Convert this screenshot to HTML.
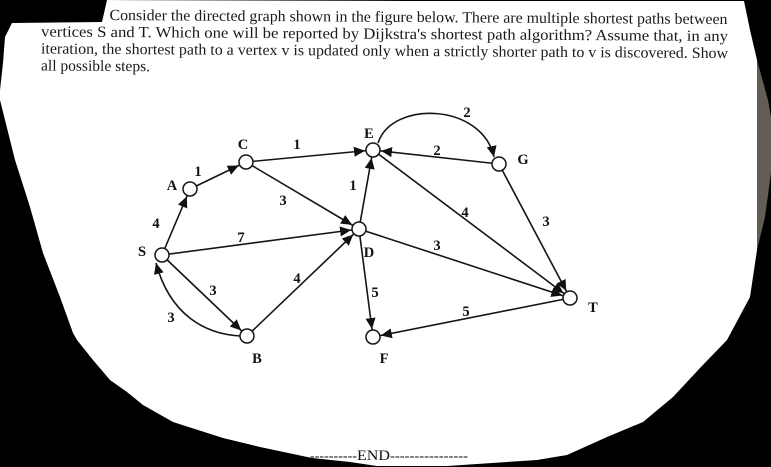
<!DOCTYPE html>
<html><head><meta charset="utf-8"><style>
html,body{margin:0;padding:0;background:#000;width:771px;height:467px;overflow:hidden}
svg{display:block}
.t{font-family:"Liberation Serif",serif;font-size:15.5px;fill:#1a1a1a}
.l{font-family:"Liberation Serif",serif;font-size:14.5px;font-weight:bold;fill:#111;text-anchor:middle;dominant-baseline:central}
.e{stroke:#151515;stroke-width:1.6;fill:none;marker-end:url(#a)}
circle{fill:#fff;stroke:#151515;stroke-width:1.5}
</style></head><body>
<svg width="771" height="467" viewBox="0 0 771 467" xmlns="http://www.w3.org/2000/svg">
<defs>
<marker id="a" markerUnits="userSpaceOnUse" markerWidth="40" markerHeight="20" refX="19" refY="10" orient="auto" viewBox="0 0 40 20">
<path d="M0,5 L11,10 L0,15 Z" fill="#111"/>
</marker>
<marker id="b" markerUnits="userSpaceOnUse" markerWidth="40" markerHeight="20" refX="11" refY="10" orient="auto" viewBox="0 0 40 20">
<path d="M0,5 L11,10 L0,15 Z" fill="#111"/>
</marker>
</defs>
<rect width="771" height="467" fill="#000"/>
<path d="M771,117 L771,173 L765,217 L757,250 L757,60 L768,100 Z" fill="#625e55"/>
<path fill="#fff" d="M107,0 L405,1 L744,1 L750,30 L757,60 L757,250 L750,297 L727,340 L700,368 L673,397 L643,422 L607,437 L567,455 L537,460 L477,464 L447,466 L377,466 L350,462 L312,458 L260,447 L223,438 L173,422 L143,405 L127,392 L110,380 L93,360 L77,340 L73,333 L60,297 L43,253 L30,207 L15,160 L5,120 L0,100 L0,90 L3,63 L5,37 L12,23 L102,22 Z"/>
<g class="t">
<text x="109.500" y="20" transform="rotate(0.38 109 20)" textLength="618" lengthAdjust="spacingAndGlyphs">Consider the directed graph shown in the figure below. There are multiple shortest paths between</text>
<text x="41" y="36.500" transform="rotate(0.38 41 36)" textLength="687" lengthAdjust="spacingAndGlyphs">vertices S and T. Which one will be reported by Dijkstra's shortest path algorithm? Assume that, in any</text>
<text x="41" y="53.500" transform="rotate(0.38 41 53)" textLength="687" lengthAdjust="spacingAndGlyphs">iteration, the shortest path to a vertex v is updated only when a strictly shorter path to v is discovered. Show</text>
<text x="41" y="70.500" transform="rotate(0.38 41 70)" textLength="109" lengthAdjust="spacingAndGlyphs">all possible steps.</text>
</g>
<line class="e" x1="162" y1="255" x2="190" y2="189"/>
<line class="e" x1="190" y1="189" x2="246" y2="162"/>
<line class="e" x1="246" y1="162" x2="373" y2="150"/>
<line class="e" x1="246" y1="162" x2="359" y2="229"/>
<line class="e" x1="162" y1="255" x2="359" y2="229"/>
<line class="e" x1="162" y1="255" x2="247" y2="336"/>
<line class="e" x1="247" y1="336" x2="359" y2="229"/>
<line class="e" x1="359" y1="229" x2="373" y2="150"/>
<line class="e" x1="359" y1="229" x2="373" y2="337"/>
<line class="e" x1="359" y1="229" x2="570" y2="298"/>
<line class="e" x1="373" y1="150" x2="570" y2="298"/>
<line class="e" x1="499" y1="164" x2="373" y2="150"/>
<line class="e" x1="499" y1="164" x2="570" y2="298"/>
<line class="e" x1="570" y1="298" x2="373" y2="337"/>
<path d="M378,143 C392,100 482,103 494,157" stroke="#151515" stroke-width="1.6" fill="none" marker-end="url(#b)"/>
<path d="M240,336 C205,334 170,315 156,263" stroke="#151515" stroke-width="1.6" fill="none" marker-end="url(#b)"/>
<circle cx="162" cy="255" r="7"/>
<circle cx="190" cy="189" r="7"/>
<circle cx="246" cy="162" r="7"/>
<circle cx="373" cy="150" r="7"/>
<circle cx="359" cy="229" r="7"/>
<circle cx="247" cy="336" r="7"/>
<circle cx="373" cy="337" r="7"/>
<circle cx="499" cy="164" r="7"/>
<circle cx="570" cy="298" r="7"/>
<g class="l" transform="translate(0 1)">
<text x="142" y="251">S</text>
<text x="172" y="185">A</text>
<text x="243" y="144">C</text>
<text x="369" y="133">E</text>
<text x="369" y="252">D</text>
<text x="257" y="358">B</text>
<text x="384" y="358">F</text>
<text x="523" y="159">G</text>
<text x="593" y="307">T</text>
<text x="156" y="223">4</text>
<text x="198" y="171">1</text>
<text x="297" y="144">1</text>
<text x="283" y="200">3</text>
<text x="241" y="237">7</text>
<text x="213" y="290">3</text>
<text x="171" y="317">3</text>
<text x="297" y="278">4</text>
<text x="353" y="185">1</text>
<text x="375" y="292">5</text>
<text x="467" y="112">2</text>
<text x="437" y="150">2</text>
<text x="465" y="212">4</text>
<text x="546" y="221">3</text>
<text x="437" y="245">3</text>
<text x="466" y="311">5</text>
</g>
<text x="310" y="460" font-family="Liberation Serif, serif" font-size="14" fill="#111" textLength="47" lengthAdjust="spacingAndGlyphs">----------</text>
<text x="357" y="460" font-family="Liberation Serif, serif" font-size="15" fill="#111" textLength="33" lengthAdjust="spacingAndGlyphs">END</text>
<text x="390" y="460" font-family="Liberation Serif, serif" font-size="14" fill="#111" textLength="78" lengthAdjust="spacingAndGlyphs">----------------</text>
</svg>
</body></html>
